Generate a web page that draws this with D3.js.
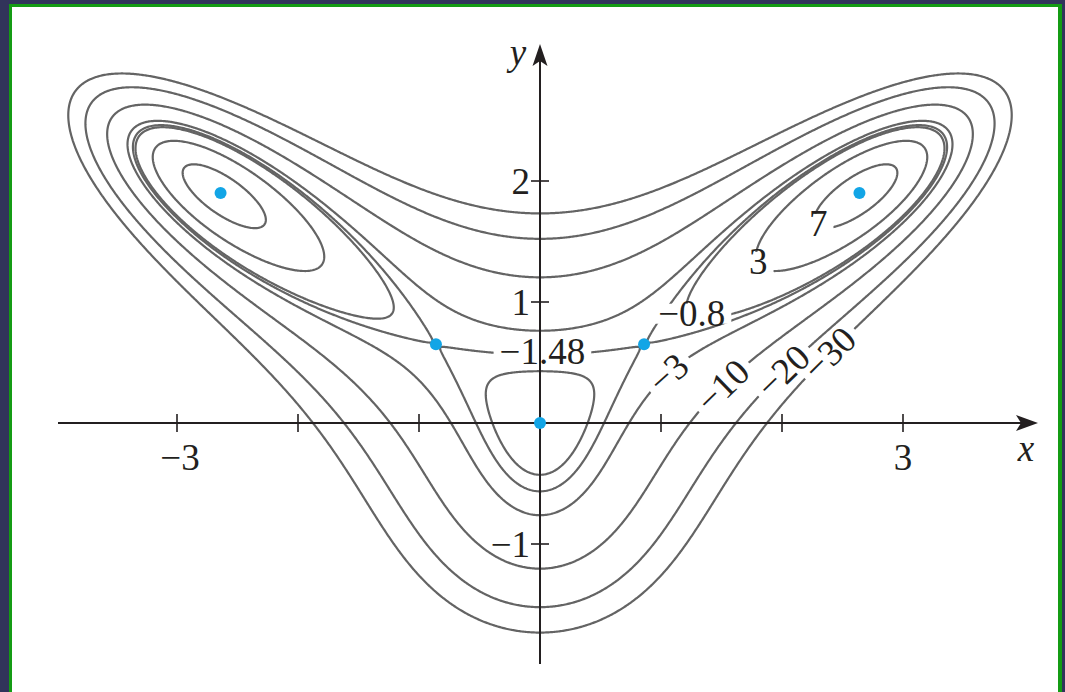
<!DOCTYPE html>
<html>
<head>
<meta charset="utf-8">
<script src="https://cdn.jsdelivr.net/npm/d3@7"></script>
<style>
  html, body { margin: 0; padding: 0; background: #31345a; }
  svg { display: block; }
  text { font-family: "Liberation Serif", "DejaVu Serif", serif; fill: #231f20; }
</style>
</head>
<body>
<svg id="chart" width="1065" height="692"></svg>
<script>
// f(x, y) = 10x²y − 5x² − 4y² − x⁴ − 2y⁴, as terms [coefficient, power of x, power of y]
const terms = [[10, 2, 1], [-5, 2, 0], [-4, 0, 2], [-1, 4, 0], [-2, 0, 4]];

// level curves that are drawn
const levels = [7, 3, -0.8, -1.48, -3, -10, -20, -30];

// critical points (two maxima, two saddles, local max at the origin)
const criticalX = [0, -2.64, 2.64, -0.86, 0.86];
const criticalY = [0, 1.90, 1.90, 0.65, 0.65];

// level labels: text, level, approximate spot, whether the text follows the curve
const labelText  = ["7", "3", "−0.8", "−1.48", "−3", "−10", "−20", "−30"];
const labelLevel = [7, 3, -0.8, -1.48, -3, -10, -20, -30];
const labelX     = [2.33, 1.85, 1.33, 0.02, 1.03, 1.487, 1.975, 2.364];
const labelY     = [1.66, 1.34, 0.96, 0.58, 0.446, 0.33, 0.463, 0.603];
const labelAlong = [false, false, false, false, true, true, true, true];

// axis ticks
const xTicks = [-3, -2, -1, 1, 2, 3];
const xTickLabels = ["−3", "", "", "", "", "3"];
const yTicks = [-1, 1, 2];
const yTickLabels = ["−1", "1", "2"];

const f = (x, y) => terms.reduce((s, t) => s + t[0] * Math.pow(x, t[1]) * Math.pow(y, t[2]), 0);
const fx = (x, y) => terms.reduce((s, t) => t[1] ? s + t[0] * t[1] * Math.pow(x, t[1] - 1) * Math.pow(y, t[2]) : s, 0);
const fy = (x, y) => terms.reduce((s, t) => t[2] ? s + t[0] * t[2] * Math.pow(x, t[1]) * Math.pow(y, t[2] - 1) : s, 0);

const svg = d3.select("#chart");

// page frame
svg.append("rect").attr("x", 0).attr("y", 0).attr("width", 1065).attr("height", 692).attr("fill", "#31345a");
svg.append("rect").attr("x", 9).attr("y", 4).attr("width", 1053).attr("height", 700).attr("fill", "#149c14");
svg.append("rect").attr("x", 12).attr("y", 7).attr("width", 1046).attr("height", 700).attr("fill", "#ffffff");

// scales: one unit = 121 px on both axes
const xScale = d3.scaleLinear().domain([0, 3]).range([540, 903]);
const yScale = d3.scaleLinear().domain([0, 2]).range([423, 181]);

// sample the function on a grid
const step = 0.01, gx0 = -4.4, gx1 = 4.4, gy0 = -2.3, gy1 = 3.5;
const nx = Math.round((gx1 - gx0) / step) + 1;
const ny = Math.round((gy1 - gy0) / step) + 1;
const values = new Float64Array(nx * ny);
for (let j = 0; j < ny; j++) {
  const y = gy0 + j * step;
  for (let i = 0; i < nx; i++) values[j * nx + i] = f(gx0 + i * step, y);
}
const contours = d3.contours().size([nx, ny]).thresholds(levels)(values);

const toPixels = d3.geoTransform({
  point(gx, gy) {
    this.stream.point(xScale(gx0 + (gx - 0.5) * step), yScale(gy0 + (gy - 0.5) * step));
  }
});
const path = d3.geoPath(toPixels);

// label placement: pull each spot onto its curve
const fontSize = 37;
const labels = labelText.map((t, k) => {
  let x = labelX[k], y = labelY[k];
  for (let it = 0; it < 20; it++) {
    const gxv = fx(x, y), gyv = fy(x, y), g2 = gxv * gxv + gyv * gyv;
    const d = (labelLevel[k] - f(x, y)) / g2;
    x += d * gxv; y += d * gyv;
  }
  let angle = 0;
  if (labelAlong[k]) {
    let tx = fy(x, y), ty = -fx(x, y);
    if (tx < 0) { tx = -tx; ty = -ty; }
    angle = Math.atan2(-ty * 121, tx * 121) * 180 / Math.PI;
  }
  return { text: t, px: xScale(x), py: yScale(y) - (labelAlong[k] ? 0 : 3), angle };
});

// gaps in the curves behind the labels
const defs = svg.append("defs");
const mask = defs.append("mask").attr("id", "label-gaps").attr("maskUnits", "userSpaceOnUse")
  .attr("x", 0).attr("y", 0).attr("width", 1065).attr("height", 692);
mask.append("rect").attr("width", 1065).attr("height", 692).attr("fill", "white");

const labelG = svg.append("g");
const labelNodes = labelG.selectAll("text").data(labels).join("text")
  .attr("text-anchor", "middle")
  .attr("dominant-baseline", "central")
  .attr("font-size", fontSize)
  .attr("transform", d => `translate(${d.px},${d.py}) rotate(${d.angle})`)
  .text(d => d.text);

labelNodes.each(function(d) {
  const w = this.getComputedTextLength() + 12;
  mask.append("rect")
    .attr("x", -w / 2).attr("y", -10).attr("width", w).attr("height", 20)
    .attr("transform", `translate(${d.px},${d.py}) rotate(${d.angle})`)
    .attr("fill", "black");
});

// contour lines
svg.insert("g", () => labelG.node())
  .attr("mask", "url(#label-gaps)")
  .selectAll("path").data(contours).join("path")
  .attr("d", path)
  .attr("fill", "none")
  .attr("stroke", "#646464")
  .attr("stroke-width", 2.2)
  .attr("stroke-linejoin", "round");

// axes
const axisG = svg.append("g").attr("stroke", "#231f20").attr("stroke-width", 2);
axisG.append("line").attr("x1", 58).attr("y1", yScale(0)).attr("x2", 1025).attr("y2", yScale(0));
axisG.append("line").attr("x1", xScale(0)).attr("y1", 664).attr("x2", xScale(0)).attr("y2", 56);

const xt = xScale(0), yt = yScale(0);
svg.append("path")
  .attr("d", `M1038,${yt} L1016,${yt - 8} L1021,${yt} L1016,${yt + 8} Z`)
  .attr("fill", "#231f20");
svg.append("path")
  .attr("d", `M${xt},44 L${xt - 7.5},66 L${xt},61 L${xt + 7.5},66 Z`)
  .attr("fill", "#231f20");

// ticks
axisG.selectAll(".xt").data(xTicks).join("line")
  .attr("x1", d => xScale(d)).attr("x2", d => xScale(d))
  .attr("y1", yt - 9).attr("y2", yt + 9).attr("stroke-width", 1.6);
axisG.selectAll(".yt").data(yTicks).join("line")
  .attr("y1", d => yScale(d)).attr("y2", d => yScale(d))
  .attr("x1", xt - 9).attr("x2", xt + 9).attr("stroke-width", 1.6);

svg.selectAll(".xl").data(xTicks).join("text")
  .attr("x", d => xScale(d) + (d < 0 ? 3 : 0))
  .attr("y", yt + 47)
  .attr("text-anchor", "middle")
  .attr("font-size", fontSize)
  .text((d, i) => xTickLabels[i]);
svg.selectAll(".yl").data(yTicks).join("text")
  .attr("x", xt - 10)
  .attr("y", d => yScale(d))
  .attr("dominant-baseline", "central")
  .attr("text-anchor", "end")
  .attr("font-size", fontSize)
  .text((d, i) => yTickLabels[i]);

svg.append("text").attr("x", 1026).attr("y", 461).attr("text-anchor", "middle")
  .attr("font-size", fontSize).attr("font-style", "italic").text("x");
svg.append("text").attr("x", 518).attr("y", 65).attr("text-anchor", "middle")
  .attr("font-size", fontSize).attr("font-style", "italic").text("y");

// critical points
svg.selectAll(".cp").data(criticalX).join("circle")
  .attr("cx", d => xScale(d))
  .attr("cy", (d, i) => yScale(criticalY[i]))
  .attr("r", 6)
  .attr("fill", "#12a5e6");
</script>
</body>
</html>
